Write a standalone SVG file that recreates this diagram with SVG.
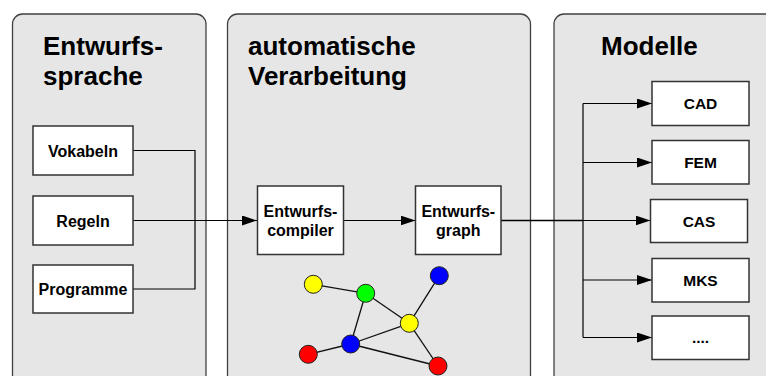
<svg xmlns="http://www.w3.org/2000/svg" width="766" height="376" viewBox="0 0 766 376">
  <style>
    .panel { fill: #e6e6e6; stroke: #404040; stroke-width: 1.3; }
    .box { fill: #ffffff; stroke: #333333; stroke-width: 1.5; }
    .title { font-family: "Liberation Sans", Arial, sans-serif; font-weight: bold; font-size: 26px; fill: #000; }
    .label { font-family: "Liberation Sans", Arial, sans-serif; font-weight: bold; font-size: 16px; fill: #000; text-anchor: middle; }
    .mlabel { font-family: "Liberation Sans", Arial, sans-serif; font-weight: bold; font-size: 15.5px; fill: #000; text-anchor: middle; }
    .wire { fill: none; stroke: #000; stroke-width: 1.2; }
    .edge { stroke: #111; stroke-width: 1.3; }
    .node { stroke: #222; stroke-width: 1; }
  </style>
  <defs>
    <marker id="arrow" viewBox="0 0 15 10" refX="15" refY="5" markerWidth="15" markerHeight="10" markerUnits="userSpaceOnUse" orient="auto">
      <path d="M0,0 L15,5 L0,10 Z" fill="#000"/>
    </marker>
  </defs>

  <rect width="766" height="376" fill="#ffffff"/>

  <!-- Panels -->
  <g id="panel-sprache">
    <rect class="panel" x="12.5" y="14" width="193.5" height="400" rx="10"/>
    <text class="title" x="43" y="55">Entwurfs-</text>
    <text class="title" x="43" y="85">sprache</text>
  </g>
  <g id="panel-verarbeitung">
    <rect class="panel" x="227.5" y="14" width="303" height="400" rx="10"/>
    <text class="title" x="248" y="55">automatische</text>
    <text class="title" x="248" y="85">Verarbeitung</text>
  </g>
  <g id="panel-modelle">
    <rect class="panel" x="554" y="14" width="240" height="400" rx="10"/>
    <text class="title" x="601" y="55">Modelle</text>
  </g>

  <!-- Connectors -->
  <g id="connectors">
    <polyline class="wire" points="133,150.5 195,150.5 195,289 133,289"/>
    <line class="wire" x1="133" y1="220.5" x2="257" y2="220.5" marker-end="url(#arrow)"/>
    <line class="wire" x1="343" y1="220.5" x2="415.5" y2="220.5" marker-end="url(#arrow)"/>
    <line class="wire" x1="501" y1="220.5" x2="583" y2="220.5" style="stroke-width:1.6"/>
    <line class="wire" x1="583" y1="103.5" x2="583" y2="337.5"/>
    <line class="wire" x1="583" y1="103.5" x2="652" y2="103.5" marker-end="url(#arrow)"/>
    <line class="wire" x1="583" y1="162.5" x2="652" y2="162.5" marker-end="url(#arrow)"/>
    <line class="wire" x1="583" y1="220.5" x2="650.5" y2="220.5" marker-end="url(#arrow)"/>
    <line class="wire" x1="583" y1="280" x2="652" y2="280" marker-end="url(#arrow)"/>
    <line class="wire" x1="583" y1="337.5" x2="652" y2="337.5" marker-end="url(#arrow)"/>
  </g>

  <!-- Language elements -->
  <g id="vokabeln">
    <rect class="box" x="33" y="126" width="100" height="49"/>
    <text class="label" x="83" y="156.5">Vokabeln</text>
  </g>
  <g id="regeln">
    <rect class="box" x="33" y="196" width="100" height="49"/>
    <text class="label" x="83" y="226.5">Regeln</text>
  </g>
  <g id="programme">
    <rect class="box" x="33" y="265" width="100" height="48"/>
    <text class="label" x="83" y="295">Programme</text>
  </g>

  <!-- Processing -->
  <g id="compiler">
    <rect class="box" x="257.5" y="186" width="86" height="68.5"/>
    <text class="label" x="300.5" y="216.5">Entwurfs-</text>
    <text class="label" x="300.5" y="235.5">compiler</text>
  </g>
  <g id="graph">
    <rect class="box" x="415.5" y="186" width="85.5" height="68.5"/>
    <text class="label" x="458.3" y="216.5">Entwurfs-</text>
    <text class="label" x="458.3" y="235.5">graph</text>
  </g>

  <!-- Example graph -->
  <g id="graph-sketch">
    <line class="edge" x1="313.3" y1="284.3" x2="365.7" y2="293.3"/>
    <line class="edge" x1="365.7" y1="293.3" x2="409.3" y2="323.3"/>
    <line class="edge" x1="365.7" y1="293.3" x2="350.7" y2="344"/>
    <line class="edge" x1="439.3" y1="275.7" x2="409.3" y2="323.3"/>
    <line class="edge" x1="409.3" y1="323.3" x2="350.7" y2="344"/>
    <line class="edge" x1="409.3" y1="323.3" x2="438" y2="366"/>
    <line class="edge" x1="350.7" y1="344" x2="308.3" y2="354.3"/>
    <line class="edge" x1="350.7" y1="344" x2="438" y2="366"/>
    <circle class="node" cx="313.3" cy="284.3" r="9" fill="#ffff00"/>
    <circle class="node" cx="365.7" cy="293.3" r="9" fill="#00ff00"/>
    <circle class="node" cx="439.3" cy="275.7" r="9" fill="#0000ff"/>
    <circle class="node" cx="409.3" cy="323.3" r="9" fill="#ffff00"/>
    <circle class="node" cx="350.7" cy="344" r="9" fill="#0000ff"/>
    <circle class="node" cx="308.3" cy="354.3" r="9" fill="#ff0000"/>
    <circle class="node" cx="438" cy="366" r="9" fill="#ff0000"/>
  </g>

  <!-- Models -->
  <g id="cad">
    <rect class="box" x="652" y="81.5" width="97" height="44"/>
    <text class="mlabel" x="700.5" y="109">CAD</text>
  </g>
  <g id="fem">
    <rect class="box" x="652" y="140.5" width="97" height="43.5"/>
    <text class="mlabel" x="700.5" y="168">FEM</text>
  </g>
  <g id="cas">
    <rect class="box" x="650.5" y="199.5" width="97" height="43"/>
    <text class="mlabel" x="699" y="226.5">CAS</text>
  </g>
  <g id="mks">
    <rect class="box" x="652" y="258.5" width="97" height="43.5"/>
    <text class="mlabel" x="700.5" y="286">MKS</text>
  </g>
  <g id="more">
    <rect class="box" x="652" y="316" width="97" height="43.5"/>
    <text class="mlabel" x="700.5" y="343">....</text>
  </g>
</svg>
